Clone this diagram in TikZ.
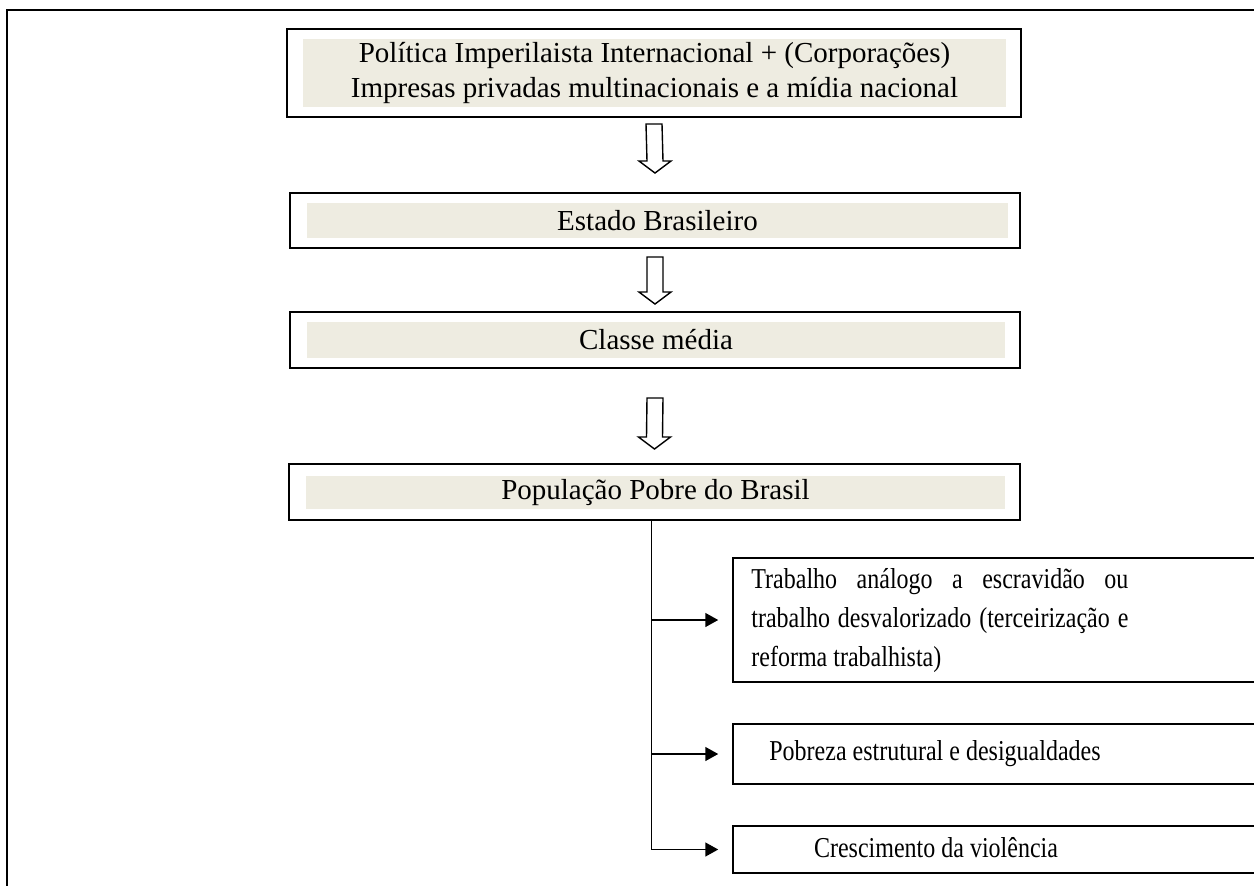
\documentclass[tikz,border=0pt]{standalone}
\usepackage{fontspec}
\setmainfont{Liberation Serif}
\usetikzlibrary{calc,arrows.meta}
\definecolor{bandcol}{HTML}{EEECE1}
\newcommand\holarrow[4]{%
  \draw[hollow] ($(#1.south)+(-8,#3)$) -- ($(#2.north)+(-8,-#4-12)$)
    -- ($(#2.north)+(-16,-#4-12)$) -- ($(#2.north)+(0,-#4)$)
    -- ($(#2.north)+(16,-#4-12)$) -- ($(#2.north)+(8,-#4-12)$)
    -- ($(#1.south)+(8,#3)$) -- cycle;}
\newcommand\tallt[1]{\scalebox{1}[1.2]{#1}}
\begin{document}
\begin{tikzpicture}[x=0.5pt,y=-0.5pt,
  mainbox/.style={draw, line width=1pt, inner sep=0pt},
  band/.style={fill=bandcol, inner sep=0pt, font=\fontsize{14.5}{17.5}\selectfont, align=center},
  sidebox/.style={draw, line width=0.75pt, inner sep=0pt},
  sidetext/.style={inner sep=0pt, font=\fontsize{12}{16.25}\selectfont},
  hollow/.style={draw, line width=0.7pt, fill=white, line join=miter},
  conn/.style={line width=0.75pt, -{Triangle[length=6.5pt,width=7pt]}, shorten >=7pt},
  frame/.style={line width=1pt}]
\clip (0,0) rectangle (1254,885);
\fill[white] (0,0) rectangle (1254,885);
% outer frame
\draw[frame] (1262,10) -- (7,10) -- (7,892);
% main boxes
\node[mainbox, minimum width=367pt, minimum height=44pt] (b1) at (654,73) {};
\node[band, minimum width=351.5pt, minimum height=34pt] (t1) at (654.5,73)
  {Política Imperilaista Internacional + (Corporações)\\Impresas privadas multinacionais e a mídia nacional};
\node[mainbox, minimum width=365pt, minimum height=27.5pt] (b2) at (655,220.5) {};
\node[band, minimum width=350.5pt, minimum height=17.5pt] (t2) at (657.5,220.5) {Estado Brasileiro};
\node[mainbox, minimum width=365pt, minimum height=28pt] (b3) at (655,340) {};
\node[band, minimum width=349pt, minimum height=18pt] (t3) at (656,340) {Classe média};
\node[mainbox, minimum width=365.5pt, minimum height=28pt] (b4) at (654.5,492) {};
\node[band, minimum width=349.5pt, minimum height=16.5pt] (t4) at (655.5,492.5) {População Pobre do Brasil};
% hollow arrows
\holarrow{b1}{b2}{6}{19}
\holarrow{b2}{b3}{8}{7}
\holarrow{b3}{b4}{29}{14}
% side boxes
\node[sidebox, minimum width=264.5pt, minimum height=62pt] (sa) at (997.5,620) {};
\node[sidetext, anchor=west] (ta) at (751,621)
  {\tallt{\parbox{188.5pt}{Trabalho análogo a escravidão ou\linebreak trabalho desvalorizado (terceirização e\linebreak reforma trabalhista)}}};
\node[sidebox, minimum width=264.5pt, minimum height=30pt] (sb) at (997.5,754) {};
\node[sidetext] (tb) at (935,754) {\tallt{Pobreza estrutural e desigualdades}};
\node[sidebox, minimum width=264.5pt, minimum height=23.5pt] (sc) at (997.5,849.5) {};
\node[sidetext] (tc) at (936,848) {\tallt{Crescimento da violência}};
% connectors
\coordinate (trunk) at ($(b4.south)+(-3,0)$);
\draw[conn] (trunk) |- (sa.west);
\draw[conn] (trunk) |- (sb.west);
\draw[conn] (trunk) |- (sc.west);
\end{tikzpicture}
\end{document}
